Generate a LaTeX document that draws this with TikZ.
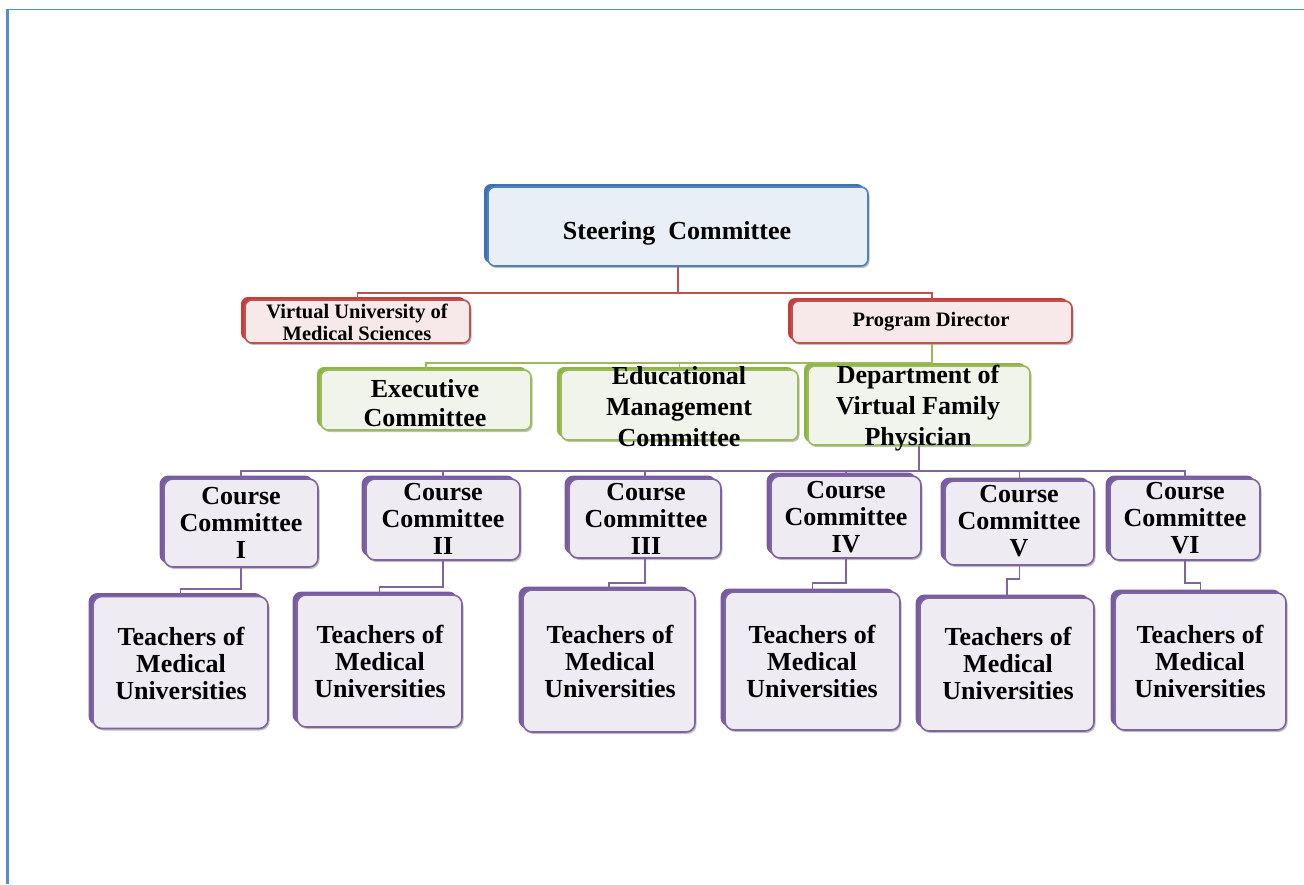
\documentclass[tikz,border=0pt]{standalone}
\usepackage{fontspec}
\setmainfont{Liberation Serif}
\usetikzlibrary{shadows}
\definecolor{pageblue}{RGB}{84,141,212}
\definecolor{bluebd}{RGB}{79,129,189}
\definecolor{bluedk}{RGB}{62,112,180}
\definecolor{bluefill}{RGB}{233,239,247}
\definecolor{redbd}{RGB}{192,80,77}
\definecolor{reddk}{RGB}{200,60,60}
\definecolor{redfill}{RGB}{247,233,233}
\definecolor{grnbd}{RGB}{155,187,89}
\definecolor{grndk}{RGB}{140,180,70}
\definecolor{grnfill}{RGB}{240,244,235}
\definecolor{purbd}{RGB}{128,100,162}
\definecolor{purdk}{RGB}{120,92,160}
\definecolor{purfill}{RGB}{238,235,243}
\tikzset{
  sz/.style 2 args={minimum width=#1pt, minimum height=#2pt},
  boxbase/.style={draw, rounded corners=7pt, line width=1.6pt, inner sep=0pt},
  softshadow/.style={drop shadow={shadow xshift=1.5pt, shadow yshift=-2pt, opacity=.25, fill=black}},
  bluebox/.style={boxbase, draw=bluebd, fill=bluefill, softshadow,
    general shadow={fill=bluedk, shadow xshift=-4pt, shadow yshift=3pt}},
  redbox/.style={boxbase, draw=redbd, fill=redfill, softshadow,
    general shadow={fill=reddk, shadow xshift=-4pt, shadow yshift=3pt}},
  grnbox/.style={boxbase, draw=grnbd, fill=grnfill, softshadow,
    general shadow={fill=grndk, shadow xshift=-4pt, shadow yshift=3pt}},
  purbox/.style={boxbase, rounded corners=9pt, draw=purbd, fill=purfill, softshadow,
    general shadow={fill=purdk, shadow xshift=-4.5pt, shadow yshift=3.5pt}},
  bigtxt/.style={font=\bfseries\fontsize{26}{27}\selectfont, align=center, inner sep=0pt},
  midtxt/.style={font=\bfseries\fontsize{26}{31}\selectfont, align=center, inner sep=0pt},
  smtxt/.style={font=\bfseries\fontsize{20.5}{22}\selectfont, align=center, inner sep=0pt},
  redln/.style={draw=redbd, line width=1.5pt},
  grnln/.style={draw=grnbd, line width=1.8pt},
  purln/.style={draw=purbd, line width=1.8pt},
}
\begin{document}
\begin{tikzpicture}[x=1pt,y=-1pt]
\useasboundingbox (0,0) rectangle (1304,884);
% page border
\draw[pageblue, line width=1.2pt] (7,9.5) -- (1304,9.5);
\draw[pageblue, line width=2.2pt] (7.5,9) -- (7.5,884);

% boxes
\node[bluebox, sz={380}{79}] (sc) at (678,226.5) {};
\node[redbox, sz={225}{43}] (vu) at (357.5,321.5) {};
\node[redbox, sz={280}{42}] (pd) at (932,322) {};
\node[grnbox, sz={210}{60}] (ex) at (426,400) {};
\node[grnbox, sz={237}{70}] (ed) at (679.5,405) {};
\node[grnbox, sz={222}{79}] (dp) at (919,405.5) {};
\node[purbox, sz={154}{88}] (c1) at (241,523) {};
\node[purbox, sz={154}{81}] (c2) at (443,519.5) {};
\node[purbox, sz={152}{79}] (c3) at (645,518.5) {};
\node[purbox, sz={150}{82}] (c4) at (846,517) {};
\node[purbox, sz={149}{84}] (c5) at (1019.5,523) {};
\node[purbox, sz={150}{81}] (c6) at (1185,519.5) {};
\node[purbox, sz={175}{132}] (t1) at (180.5,662.5) {};
\node[purbox, sz={165}{132}] (t2) at (379.5,661) {};
\node[purbox, sz={172}{142}] (t3) at (609,661) {};
\node[purbox, sz={175}{138}] (t4) at (812.5,661) {};
\node[purbox, sz={174}{133}] (t5) at (1007,664.5) {};
\node[purbox, sz={171}{137}] (t6) at (1200.5,661.5) {};

% texts
\node[bigtxt] (sct) at (677,233) {Steering~~Committee};
\node[smtxt] (vut) at (357,322) {Virtual University of\\Medical Sciences};
\node[smtxt] (pdt) at (931,322) {Program Director};
\node[bigtxt, font=\bfseries\fontsize{26}{29}\selectfont] (ext) at (425,403.5) {Executive\\Committee};
\node[midtxt] (edt) at (679,407) {Educational\\Management\\Committee};
\node[midtxt] (dpt) at (918,408) {Department of\\Virtual Family\\Physician};
\node[bigtxt] (c1t) at (241,523) {Course\\Committee\\I};
\node[bigtxt] (c2t) at (443,519) {Course\\Committee\\II};
\node[bigtxt] (c3t) at (646,518.5) {Course\\Committee\\III};
\node[bigtxt] (c4t) at (846,517) {Course\\Committee\\IV};
\node[bigtxt] (c5t) at (1019,521.5) {Course\\Committee\\V};
\node[bigtxt] (c6t) at (1185,518) {Course\\Committee\\VI};
\node[bigtxt] (t1t) at (181,663) {Teachers of\\Medical\\Universities};
\node[bigtxt] (t2t) at (380,661) {Teachers of\\Medical\\Universities};
\node[bigtxt] (t3t) at (610,661) {Teachers of\\Medical\\Universities};
\node[bigtxt] (t4t) at (812,661) {Teachers of\\Medical\\Universities};
\node[bigtxt] (t5t) at (1008,663) {Teachers of\\Medical\\Universities};
\node[bigtxt] (t6t) at (1200,661) {Teachers of\\Medical\\Universities};

% connectors between named boxes
\draw[redln] (sc.south) -- ++(0,26) -| (vu.north);
\draw[redln] (sc.south) -- ++(0,26) -| (pd.north);
\draw[grnln] (pd.south) -- ++(0,19) -| (ex.north);
\draw[grnln] (pd.south) -- ++(0,19) -| (ed.north);
\draw[grnln] (pd.south) -- (pd.south |- dp.north);
\foreach \c in {c1,c2,c3,c4,c5,c6}{
  \draw[purln] (dp.south) -- ++(0,25) -| (\c.north);
}
\draw[purln] (c1.south) -- ++(0,21) -| (t1.north);
\draw[purln] (c2.south) -- ++(0,26) -| (t2.north);
\draw[purln] (c3.south) -- ++(0,24) -| (t3.north);
\draw[purln] (c4.south) -- ++(0,24) -| (t4.north);
\draw[purln] (c5.south) -- ++(0,13) -| (t5.north);
\draw[purln] (c6.south) -- ++(0,22) -| (t6.north);
\end{tikzpicture}
\end{document}
